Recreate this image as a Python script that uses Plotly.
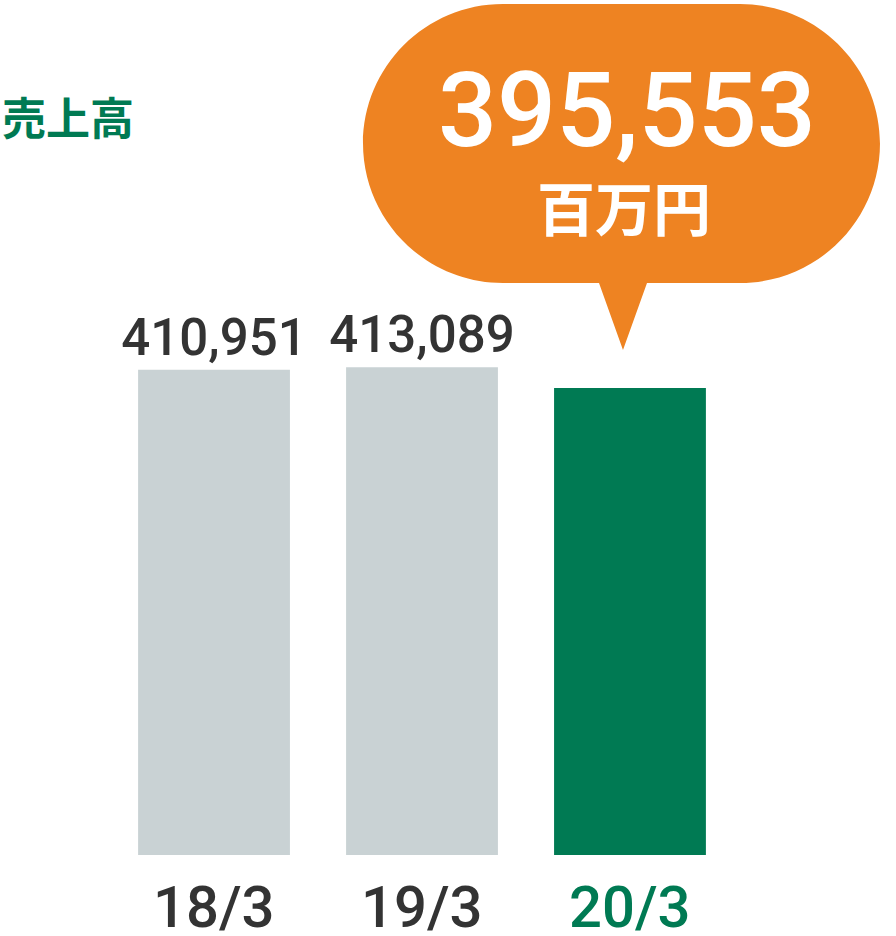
import plotly.graph_objects as go

# データ
categories = ["18/3", "19/3", "20/3"]
sales = [410951, 413089, 395553]
highlight_value = 395553
title_text = "売上高"
unit_text = "百万円"

GREEN = "#007A53"
GRAY_BAR = "#C9D2D4"
ORANGE = "#EE8322"
DARK = "#333333"
NUM_FONT = "Roboto"
JP_FONT = "Noto Sans CJK JP"

W, H = 896, 936
PLOT_H = 855  # 描画領域の高さ (px)

def px(x, y):
    # ピクセル座標 -> paper座標
    return x / W, 1 - y / PLOT_H

bar_colors = [GRAY_BAR] * (len(categories) - 1) + [GREEN]
bar_text = [f"{v:,}" for v in sales[:-1]] + [""]

fig = go.Figure()
fig.add_trace(go.Bar(
    x=list(range(len(categories))), y=sales,
    marker=dict(color=bar_colors, line=dict(width=0)),
    text=bar_text, textposition="outside", cliponaxis=False, constraintext="none",
    textfont=dict(family=NUM_FONT, size=51, color=DARK, weight=500),
    width=0.73, hoverinfo="skip",
))

# 吹き出し (角丸 + しっぽ)
L, R, T, B, r = 363, 880, 4, 283, 140
k = 0.5523 * r
tail_l, tail_r, tip_x, tip_y = 599, 647, 623, 350
pts = [
    ("M", [(L + r, T)]),
    ("L", [(R - r, T)]),
    ("C", [(R - r + k, T), (R, T + r - k), (R, T + r)]),
    ("L", [(R, B - r)]),
    ("C", [(R, B - r + k), (R - r + k, B), (R - r, B)]),
    ("L", [(tail_r, B)]),
    ("L", [(tip_x, tip_y)]),
    ("L", [(tail_l, B)]),
    ("L", [(L + r, B)]),
    ("C", [(L + r - k, B), (L, B - r + k), (L, B - r)]),
    ("L", [(L, T + r)]),
    ("C", [(L, T + r - k), (L + r - k, T), (L + r, T)]),
]
path = ""
for cmd, ps in pts:
    path += cmd + " " + " ".join(f"{px(a, b)[0]:.5f},{px(a, b)[1]:.5f}" for a, b in ps) + " "
path += "Z"
fig.add_shape(type="path", path=path, xref="paper", yref="paper",
              fillcolor=ORANGE, line=dict(width=0), layer="above")

annotations = []
# 吹き出しの数値
bx, by = px(627, 110)
annotations.append(dict(x=bx, y=by, xref="paper", yref="paper", text=f"{highlight_value:,}",
                        showarrow=False, xanchor="center", yanchor="middle",
                        font=dict(family=NUM_FONT, size=104, color="white", weight=500)))
ux, uy = px(624, 206)
annotations.append(dict(x=ux, y=uy, xref="paper", yref="paper", text=f"<b>{unit_text}</b>",
                        showarrow=False, xanchor="center", yanchor="middle",
                        font=dict(family=JP_FONT, size=58, color="white")))
# タイトル
tx, ty = px(0, 116)
annotations.append(dict(x=tx, y=ty, xref="paper", yref="paper", text=f"<b>{title_text}</b>",
                        showarrow=False, xanchor="left", yanchor="middle",
                        font=dict(family=JP_FONT, size=44, color=GREEN)))
# カテゴリラベル
for i, c in enumerate(categories):
    annotations.append(dict(x=i, y=0, xref="x", yref="y", text=c, showarrow=False,
                            xanchor="center", yanchor="middle", yshift=-52,
                            font=dict(family=NUM_FONT, size=58, weight=500,
                                      color=GREEN if i == len(categories) - 1 else DARK)))

fig.update_layout(
    width=W, height=H,
    margin=dict(l=0, r=0, t=0, b=H - PLOT_H),
    paper_bgcolor="white", plot_bgcolor="white",
    showlegend=False,
    xaxis=dict(range=[-1.029, 3.279], showgrid=False, zeroline=False,
               showticklabels=False, showline=False, fixedrange=True),
    yaxis=dict(range=[0, 724000], showgrid=False, zeroline=False,
               showticklabels=False, showline=False, fixedrange=True),
    annotations=annotations,
)

fig.write_html("out.html", config={"displayModeBar": False},
               post_script="document.body.style.margin='0';")
